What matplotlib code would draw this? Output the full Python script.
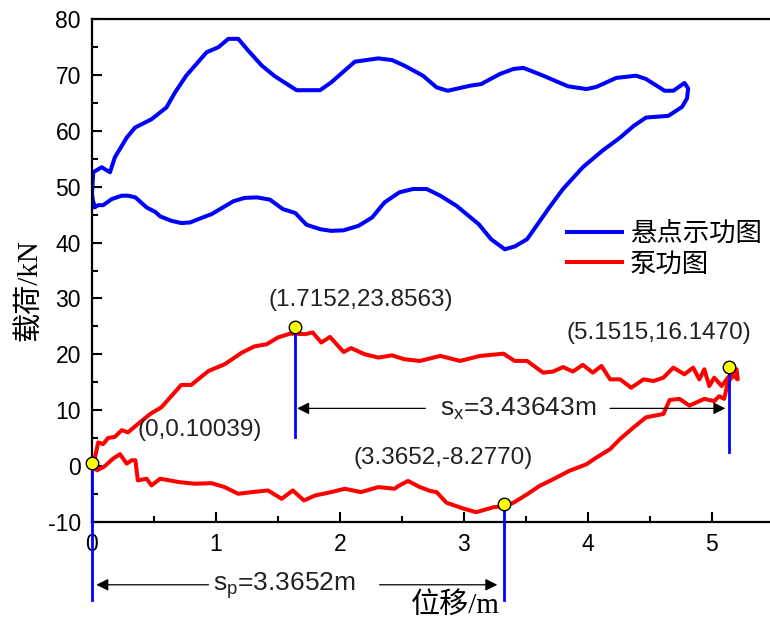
import numpy as np
import matplotlib
matplotlib.use("Agg")
import matplotlib.pyplot as plt

plt.rcParams["font.family"] = ["Liberation Sans", "Noto Sans CJK SC"]
plt.rcParams["mathtext.fontset"] = "custom"
plt.rcParams["mathtext.rm"] = "Liberation Sans"
plt.rcParams["mathtext.it"] = "Liberation Sans"

# 悬点示功图 (闭合曲线)
xuan_x = [0.01, 0.0, 0.01, 0.078, 0.145, 0.185, 0.226, 0.28, 0.347, 0.48, 0.60, 0.67, 0.76,
          0.925, 1.02, 1.10, 1.18, 1.26, 1.37, 1.475, 1.65, 1.84, 1.93, 2.12, 2.31, 2.42,
          2.52, 2.67, 2.78, 2.87, 3.05, 3.14, 3.29, 3.40, 3.48, 3.64, 3.84, 3.99, 4.07,
          4.23, 4.39, 4.47, 4.62, 4.69, 4.78, 4.81, 4.80, 4.76, 4.65, 4.53, 4.47, 4.37,
          4.26, 4.12, 3.96, 3.80, 3.69, 3.51, 3.41, 3.33, 3.22, 3.12, 2.94, 2.81, 2.70,
          2.59, 2.48, 2.40, 2.36, 2.26, 2.15, 2.03, 1.93, 1.84, 1.73, 1.64, 1.54, 1.435,
          1.33, 1.23, 1.14, 0.965, 0.87, 0.79, 0.72, 0.64, 0.55, 0.51, 0.44, 0.35, 0.29,
          0.24, 0.16, 0.09, 0.05, 0.02, 0.01]
xuan_y = [47.2, 48.7, 52.6, 53.5, 52.6, 55.3, 56.8, 58.8, 60.6, 62.1, 64.2, 66.9, 69.9,
          74.1, 75.0, 76.5, 76.5, 74.4, 71.7, 69.8, 67.3, 67.3, 68.7, 72.4, 73.0, 72.7,
          71.7, 69.9, 67.8, 67.2, 68.1, 68.4, 70.2, 71.1, 71.3, 69.9, 68.0, 67.5, 67.9,
          69.5, 69.9, 69.3, 67.2, 67.2, 68.6, 67.6, 65.8, 64.3, 62.7, 62.5, 62.4, 60.9,
          58.8, 56.5, 53.5, 49.6, 46.3, 40.6, 39.3, 38.8, 40.6, 43.3, 46.6, 48.4, 49.6,
          49.6, 49.0, 47.8, 47.2, 44.5, 43.0, 42.2, 42.1, 42.4, 43.2, 45.3, 46.0, 47.7,
          48.1, 48.0, 47.4, 45.1, 44.3, 43.6, 43.5, 43.9, 44.7, 45.5, 46.3, 48.1, 48.4,
          48.4, 47.8, 46.7, 46.7, 46.3, 47.2]

# 泵功图 (闭合曲线)
beng_x = [0.0, 0.024, 0.05, 0.09, 0.13, 0.185, 0.24, 0.29, 0.37, 0.47, 0.56, 0.64, 0.72,
          0.80, 0.94, 1.07, 1.21, 1.31, 1.41, 1.50, 1.60, 1.72, 1.78, 1.85, 1.92, 2.03,
          2.09, 2.20, 2.31, 2.42, 2.52, 2.645, 2.81, 2.97, 3.13, 3.32, 3.41, 3.51, 3.64,
          3.72, 3.80, 3.88, 3.96, 4.04, 4.11, 4.18, 4.26, 4.35, 4.45, 4.53, 4.61, 4.69,
          4.78, 4.85, 4.90, 4.94, 4.98, 5.02, 5.08, 5.13, 5.17, 5.20, 5.21, 5.17, 5.13,
          5.10, 5.06, 5.02, 4.94, 4.82, 4.74, 4.66, 4.61, 4.47, 4.37, 4.26, 4.18, 4.07,
          3.99, 3.85, 3.72, 3.61, 3.51, 3.40, 3.33, 3.24, 3.10, 2.99, 2.86, 2.78, 2.73,
          2.645, 2.55, 2.48, 2.44, 2.31, 2.17, 2.04, 1.91, 1.80, 1.71, 1.62, 1.53, 1.42,
          1.29, 1.18, 1.07, 0.965, 0.83, 0.70, 0.55, 0.48, 0.44, 0.37, 0.35, 0.32, 0.28,
          0.226, 0.17, 0.10, 0.04, 0.0, 0.0]
beng_y = [0.5, 1.5, 4.2, 3.9, 5.0, 5.2, 6.4, 6.0, 7.5, 9.3, 10.5, 12.5, 14.5,
          14.5, 17.0, 18.2, 20.3, 21.4, 21.8, 23.0, 23.7, 23.6, 23.9, 22.1, 23.1, 20.4,
          21.1, 20.0, 19.4, 19.8, 19.1, 18.8, 19.7, 18.8, 19.7, 20.1, 18.8, 18.8, 16.7,
          16.9, 17.7, 16.9, 18.1, 16.7, 17.9, 15.5, 15.5, 14.0, 15.5, 15.2, 15.8, 17.6,
          16.4, 17.6, 15.5, 17.3, 14.3, 15.8, 14.3, 15.8, 16.7, 17.3, 15.5, 16.2, 14.9,
          12.0, 12.5, 11.6, 12.0, 10.8, 12.0, 11.8, 9.3, 8.7, 6.9, 4.8, 3.0, 1.5,
          0.3, -0.9, -2.4, -3.6, -5.1, -6.6, -7.2, -7.4, -8.3, -7.6, -6.6, -4.7, -4.5,
          -3.8, -2.7, -3.5, -4.1, -3.8, -4.7, -4.1, -4.8, -5.3, -6.2, -4.4, -5.9, -4.4,
          -4.7, -5.0, -3.8, -3.1, -3.2, -2.9, -2.3, -3.5, -2.3, -2.6, 1.0, 1.0, 0.4,
          2.1, 1.3, -0.1, -0.8, 0.0, 0.5]

# 特征点 (黄色标记) 及竖线下端
pt_x = [0.0, 1.64, 3.32, 5.14]
pt_y = [0.6, 24.8, -6.9, 17.8]
vline_bottom = [-24.0, 5.1, -24.0, 2.4]
pt_labels = ["(0,0.10039)", "(1.7152,23.8563)", "(3.3652,-8.2770)", "(5.1515,16.1470)"]

fig = plt.figure(figsize=(7.70, 6.28), dpi=100)
ax = fig.add_axes([92 / 770, 1 - 521.7 / 628, 1 - 92 / 770, 502.4 / 628])

ax.plot(xuan_x, xuan_y, color="#0000ff", lw=2.9, label="悬点示功图", solid_joinstyle="round")
ax.plot(beng_x, beng_y, color="#ff0000", lw=2.9, label="泵功图", solid_joinstyle="round")

for x0, y0, yb in zip(pt_x, pt_y, vline_bottom):
    ax.plot([x0, x0], [y0, yb], color="#0000ff", lw=2.0, clip_on=False, zorder=3)
ax.plot(pt_x, pt_y, "o", ms=9, mfc="#ffff00", mec="black", mew=1.0, clip_on=False, zorder=5)

# 标注文字
txt_pos = [(0.87, 6.4), (2.17, 29.7), (2.83, 1.4), (4.57, 23.8)]
for (tx, ty), s in zip(txt_pos, pt_labels):
    ax.text(tx, ty, s, fontsize=17.5, ha="center", va="center", color="#222222")

# 行程箭头
arw = dict(arrowstyle="-|>", color="black", lw=0.9, mutation_scale=18, shrinkA=0, shrinkB=0)
ax.annotate("", xy=(1.655, 10.3), xytext=(2.69, 10.3), arrowprops=arw, annotation_clip=False)
ax.annotate("", xy=(5.11, 10.3), xytext=(4.18, 10.3), arrowprops=arw, annotation_clip=False)
ax.text(3.44, 10.2, r"$\mathrm{s_x}$=3.43643m", fontsize=19, ha="center", va="center", color="#222222")

ax.annotate("", xy=(0.035, -21.3), xytext=(0.94, -21.3), arrowprops=arw, annotation_clip=False)
ax.annotate("", xy=(3.27, -21.3), xytext=(2.32, -21.3), arrowprops=arw, annotation_clip=False)
ax.text(1.55, -21.4, r"$\mathrm{s_p}$=3.3652m", fontsize=19, ha="center", va="center",
        color="#222222", clip_on=False)

ax.set_xlim(0, 5.47)
ax.set_ylim(-10, 80)
ax.set_xticks([0, 1, 2, 3, 4, 5])
ax.set_xticks(np.arange(0.5, 5.5, 1.0), minor=True)
ax.set_yticks(np.arange(-10, 81, 10))
ax.set_yticklabels(["-10", "0", "10", "20", "30", "40", "50", "60", "70", "80"])
ax.set_yticks(np.arange(-5, 80, 10), minor=True)
ax.tick_params(which="major", direction="in", length=7, width=1.5, labelsize=16.5, pad=8)
ax.tick_params(which="minor", direction="in", length=4, width=1.5)
ax.tick_params(top=False, right=False)
for side in ["left", "bottom", "top"]:
    ax.spines[side].set_linewidth(1.6)
ax.spines["right"].set_visible(False)

lab_font = ["Liberation Serif", "Noto Sans CJK SC"]
fig.text(29 / 770, 1 - 290 / 628, "载荷/kN", fontsize=21, family=lab_font,
         rotation=90, ha="center", va="center")
fig.text(455 / 770, 1 - 606 / 628, "位移/m", fontsize=21, family=lab_font,
         ha="center", va="center")

leg = ax.legend(loc="upper left", bbox_to_anchor=(0.70, 0.597), frameon=False,
                prop={"family": lab_font, "size": 19},
                handlelength=2.1, handletextpad=0.3, labelspacing=0.25,
                borderpad=0, borderaxespad=0)

fig.savefig("out.png", dpi=100)
